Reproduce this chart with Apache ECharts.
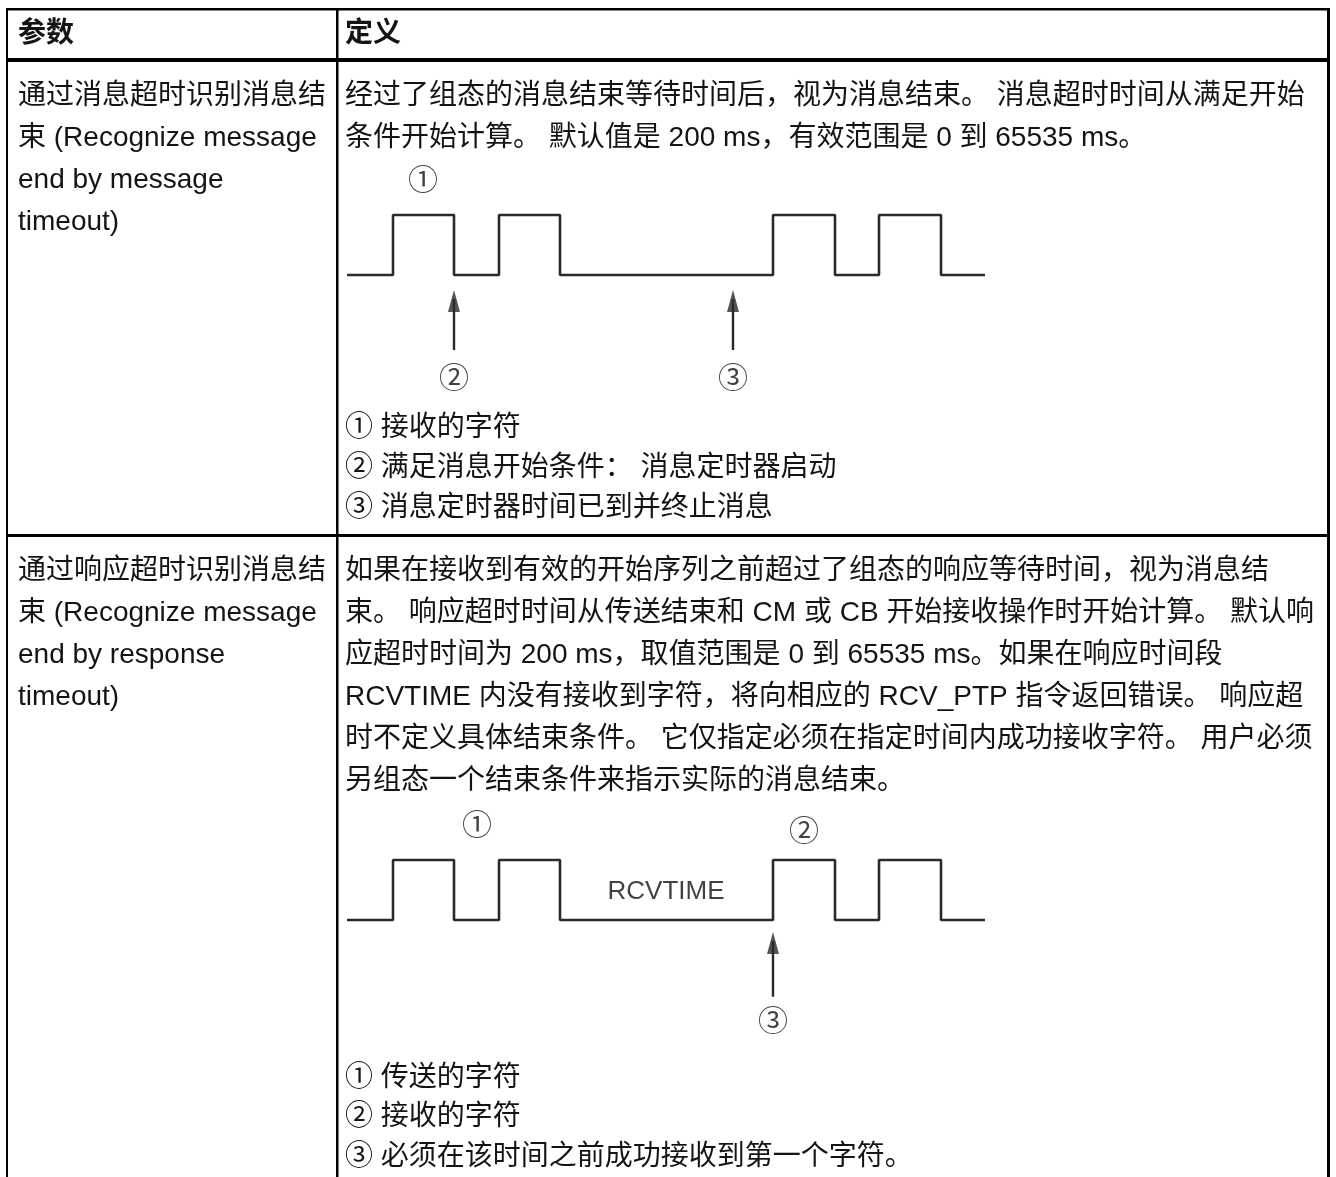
<!DOCTYPE html>
<html><head><meta charset="utf-8">
<script src="https://cdn.jsdelivr.net/npm/echarts@6/dist/echarts.min.js"></script>
<style>html,body{margin:0;padding:0;background:#fff}#c{width:1336px;height:1177px}</style>
</head><body><div id="c"></div>
<script>
// ---------------- data ----------------
const headers = ['参数', '定义'];
const row1Param = ['通过消息超时识别消息结', '束 (Recognize message', 'end by message', 'timeout)'];
const row1Desc = ['经过了组态的消息结束等待时间后，视为消息结束。 消息超时时间从满足开始',
                  '条件开始计算。 默认值是 200 ms，有效范围是 0 到 65535 ms。'];
const row1Legend = ['① 接收的字符', '② 满足消息开始条件： 消息定时器启动', '③ 消息定时器时间已到并终止消息'];
const row2Param = ['通过响应超时识别消息结', '束 (Recognize message', 'end by response', 'timeout)'];
const row2Desc = ['如果在接收到有效的开始序列之前超过了组态的响应等待时间，视为消息结',
                  '束。 响应超时时间从传送结束和 CM 或 CB 开始接收操作时开始计算。 默认响',
                  '应超时时间为 200 ms，取值范围是 0 到 65535 ms。如果在响应时间段',
                  'RCVTIME 内没有接收到字符，将向相应的 RCV_PTP 指令返回错误。 响应超',
                  '时不定义具体结束条件。 它仅指定必须在指定时间内成功接收字符。 用户必须',
                  '另组态一个结束条件来指示实际的消息结束。'];
const row2Legend = ['① 传送的字符', '② 接收的字符', '③ 必须在该时间之前成功接收到第一个字符。'];

// waveform timing (time units), pulses as [rise, fall], level 0 = idle, 1 = high
const waveSpan = 638;
const wave1Pulses = [[46, 107], [152, 213], [426, 488], [532, 594]];
const wave2Pulses = [[46, 107], [152, 213], [426, 488], [532, 594]];
// arrows: time, tail level, tip level
const wave1Arrows = [[107, -1.25, -0.25], [386, -1.25, -0.25]];
const wave2Arrows = [[426, -1.28, -0.2]];
// labels: time, level, text
const wave1Labels = [[76, 1.55, '①'], [107, -1.75, '②'], [386, -1.75, '③']];
const wave2Labels = [[130, 1.55, '①'], [457, 1.45, '②'], [426, -1.72, '③']];
const wave2Notes = [[319, 0.47, 'RCVTIME']];

// ---------------- layout / style ----------------
const FONT = '"Liberation Sans", "Noto Sans CJK SC", sans-serif';
const FS = 28;
const TXT = '#141414';
const LINE = '#2a2a2a';
const leftX = 18, rightX = 345;

const chart = echarts.init(document.getElementById('c'), null, {renderer: 'canvas'});

const graphic = [];
function rect(x, y, w, h) {
  graphic.push({type: 'rect', shape: {x, y, width: w, height: h}, style: {fill: '#000'}, silent: true});
}
function text(str, x, y, opts) {
  opts = opts || {};
  graphic.push({type: 'text', x: x, y: y, silent: true,
    style: {text: str, font: (opts.bold ? 'bold ' : '') + (opts.size || FS) + 'px ' + FONT,
      fill: TXT, textAlign: 'left', textVerticalAlign: 'middle', align: 'left', verticalAlign: 'middle'}});
}
function lines(arr, x, y0, step) { arr.forEach((s, i) => text(s, x, y0 + i * step)); }

// table rules
rect(6, 8, 1324, 2.5);
rect(6, 8, 2, 1169);
rect(1327, 8, 3, 1169);
rect(336, 8, 2.5, 1169);
rect(6, 58, 1324, 4);
rect(6, 534, 1324, 3);

// header
text(headers[0], leftX, 34, {bold: true});
text(headers[1], rightX, 34, {bold: true});
// row 1
lines(row1Param, leftX, 96, 42);
lines(row1Desc, rightX, 96, 42);
lines(row1Legend, rightX, 428, 40);
// row 2
lines(row2Param, leftX, 571, 42);
lines(row2Desc, rightX, 571, 42);
lines(row2Legend, rightX, 1078, 39.5);

function wavePoints(pulses) {
  const pts = [[0, 0]];
  pulses.forEach(p => { pts.push([p[0], 0], [p[0], 1], [p[1], 1], [p[1], 0]); });
  pts.push([waveSpan, 0]);
  return pts;
}

const grids = [
  {left: 347, top: 155, width: 638, height: 240},
  {left: 347, top: 800, width: 638, height: 240}
];
const xAxes = grids.map((g, i) => ({gridIndex: i, type: 'value', min: 0, max: waveSpan, show: false}));
const yAxes = grids.map((g, i) => ({gridIndex: i, type: 'value', min: -2, max: 2, show: false}));

const labelStyle = (size) => ({show: true, position: 'inside', formatter: '{b}', fontSize: size,
  color: '#111', fontFamily: FONT, textBorderWidth: 0, textShadowBlur: 0});

const series = [];
function addDiagram(idx, pulses, arrows, labels, notes) {
  series.push({type: 'line', xAxisIndex: idx, yAxisIndex: idx, data: wavePoints(pulses),
    symbol: 'none', clip: false, lineStyle: {color: LINE, width: 2.6}, z: 2});
  arrows.forEach(a => {
    series.push({type: 'line', xAxisIndex: idx, yAxisIndex: idx, data: [[a[0], a[1]], [a[0], a[2] - 0.15]],
      symbol: 'none', clip: false, lineStyle: {color: LINE, width: 2.4}, z: 2});
  });
  series.push({type: 'scatter', xAxisIndex: idx, yAxisIndex: idx, data: arrows.map(a => [a[0], a[2]]),
    symbol: 'triangle', symbolSize: [12, 22], symbolOffset: [0, '50%'],
    itemStyle: {color: LINE}, clip: false, z: 3});
  series.push({type: 'scatter', xAxisIndex: idx, yAxisIndex: idx,
    data: labels.map(l => ({value: [l[0], l[1]], name: l[2]})), symbolSize: 0, clip: false,
    itemStyle: {color: '#111'}, label: labelStyle(30)});
  if (notes) series.push({type: 'scatter', xAxisIndex: idx, yAxisIndex: idx,
    data: notes.map(l => ({value: [l[0], l[1]], name: l[2]})), symbolSize: 0, clip: false,
    itemStyle: {color: '#111'}, label: labelStyle(26)});
}
addDiagram(0, wave1Pulses, wave1Arrows, wave1Labels);
addDiagram(1, wave2Pulses, wave2Arrows, wave2Labels, wave2Notes);

chart.setOption({
  backgroundColor: '#ffffff',
  animation: false,
  grid: grids,
  xAxis: xAxes,
  yAxis: yAxes,
  graphic: graphic,
  series: series
});
</script></body></html>
